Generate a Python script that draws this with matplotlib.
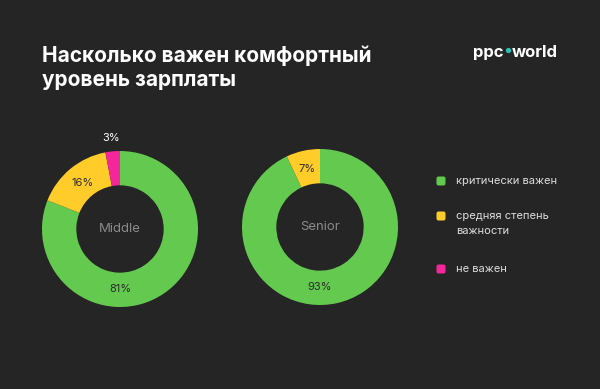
"""Donut charts: how important a comfortable salary level is, Middle vs Senior."""

import matplotlib.pyplot as plt
from matplotlib.patches import FancyBboxPatch
import numpy as np

plt.rcParams["font.family"] = ["Inter", "DejaVu Sans"]

BG = "#252525"

title = "Насколько важен комфортный\nуровень зарплаты"
groups = ["Middle", "Senior"]
categories = ["критически важен", "средняя степень\nважности", "не важен"]
colors = ["#64c94f", "#ffcc29", "#f5259b"]
values = {
    "Middle": [81, 16, 3],
    "Senior": [93, 7, 0],
}

W, H = 600, 389
fig = plt.figure(figsize=(W / 100, H / 100), dpi=100, facecolor=BG)

# overlay axes in pixel coordinates for title, logo and legend
over = fig.add_axes([0, 0, 1, 1])
over.set_xlim(0, W)
over.set_ylim(H, 0)
over.axis("off")

over.text(42, 67.5, title, color="white", fontsize=15, fontweight="bold",
          va="center", ha="left", linespacing=1.22)

# logo
over.text(473, 52, "ppc", color="white", fontsize=12, fontweight="bold", va="center", ha="left")
over.plot([507.5], [50], "o", color="#27c2b8", markersize=2.8)
over.text(512, 52, "world", color="white", fontsize=12, fontweight="bold", va="center", ha="left")

centers = [(120, 229), (320, 227)]
R = 78
INNER = 0.56

for grp, (cx, cy) in zip(groups, centers):
    ax = fig.add_axes([(cx - 1.3 * R) / W, (H - cy - 1.3 * R) / H, 2.6 * R / W, 2.6 * R / H])
    ax.set_facecolor("none")
    vals = values[grp]
    ax.pie(vals, colors=colors, startangle=90, counterclock=False, radius=1,
           wedgeprops=dict(width=1 - INNER, linewidth=0))
    ax.set_xlim(-1.3, 1.3)
    ax.set_ylim(-1.3, 1.3)
    ax.set_aspect("equal")
    ax.axis("off")

    total = sum(vals)
    start = 90.0
    biggest = int(np.argmax(vals))
    for i, v in enumerate(vals):
        span = v / total * 360
        if v == 0:
            continue
        mid = start - span / 2
        start -= span
        if i == biggest:
            ang, r, col = -90, 0.77, "#2b2b2b"
        elif v < 5:
            ang, r, col = mid, 1.17, "white"
        else:
            ang, r, col = mid, 0.76, "#2b2b2b"
        ax.text(r * np.cos(np.radians(ang)), r * np.sin(np.radians(ang)), f"{v}%",
                color=col, fontsize=8, ha="center", va="center")
    ax.text(0, 0, grp, color="#8a8a8a", fontsize=9.5, ha="center", va="center")

# legend
leg_y = [181, 216, 269]
for label, col, y in zip(categories, colors, leg_y):
    over.add_patch(FancyBboxPatch((436.5, y - 4.5), 9, 9,
                                  boxstyle="round,pad=0,rounding_size=2",
                                  facecolor=col, edgecolor="none"))
    for j, line in enumerate(label.split("\n")):
        over.text(456, y - 0.5 + 15 * j, line, color="#dddddd", fontsize=8,
                  ha="left", va="center")

fig.savefig("out.png", dpi=100, facecolor=BG)
